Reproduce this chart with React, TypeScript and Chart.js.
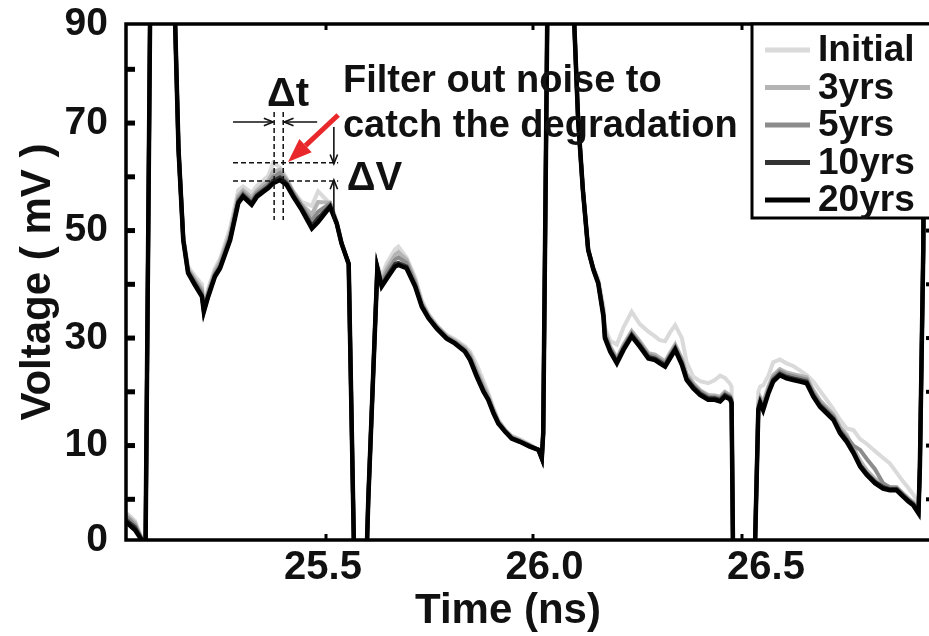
import React, { useEffect, useRef } from "react";
import { Chart, registerables } from "chart.js";

Chart.register(...registerables);

const FONT = '"Liberation Sans", Arial, Helvetica, sans-serif';

// ---------------- data ----------------
const seriesLabels = ["Initial", "3yrs", "5yrs", "10yrs", "20yrs"];
const seriesColors = ["#dadada", "#b4b4b4", "#8c8c8c", "#333333", "#000000"];

const timeNs = [
  25.0552, 25.0757, 25.0940, 25.0994, 25.1102, 25.1641, 25.1739, 25.1846, 25.1954, 25.2105,
  25.2267, 25.2310, 25.2408, 25.2559, 25.2677, 25.2904, 25.3087, 25.3195, 25.3389, 25.3508,
  25.3648, 25.3767, 25.3875, 25.4026, 25.4177, 25.4328, 25.4522, 25.4749, 25.4889, 25.5159,
  25.5310, 25.5418, 25.5580, 25.5699, 25.5990, 25.6022, 25.6227, 25.6324, 25.6443, 25.6627,
  25.6702, 25.6885, 25.7080, 25.7231, 25.7382, 25.7565, 25.7792, 25.7975, 25.8202, 25.8321,
  25.8472, 25.8623, 25.8731, 25.8849, 25.8957, 25.9108, 25.9259, 25.9443, 25.9669, 25.9864,
  25.9939, 25.9971, 26.0069, 26.0640, 26.0759, 26.0867, 26.0986, 26.1104, 26.1212, 26.1331,
  26.1363, 26.1482, 26.1633, 26.1784, 26.1968, 26.2151, 26.2345, 26.2496, 26.2604, 26.2723,
  26.2831, 26.2950, 26.3101, 26.3208, 26.3360, 26.3511, 26.3694, 26.3845, 26.3964, 26.4072,
  26.4190, 26.4223, 26.4255, 26.4751, 26.4827, 26.4870, 26.4935, 26.5054, 26.5161, 26.5312,
  26.5464, 26.5615, 26.5766, 26.5917, 26.6068, 26.6219, 26.6370, 26.6521, 26.6672, 26.6823,
  26.6974, 26.7125, 26.7276, 26.7460, 26.7643, 26.7794, 26.7945, 26.8096, 26.8215, 26.8323,
  26.8442, 26.8474, 26.8550, 26.8593,
];

const vInitial = [
  -2.4, -4.0, -8.0, -9.0, 95, 95, 65.0, 49.0, 43.3, 41.6,
  40.0, 36.0, 39.2, 43.0, 44.8, 50.5, 57.5, 58.2, 57.0, 58.3,
  59.3, 60.2, 62.6, 61.8, 59.8, 57.3, 55.3, 54.6, 57.3, 55.0,
  51.8, 48.0, 43.8, -9, -9, -0.1, 43.6, 41.5, 44.0, 46.5,
  47.0, 45.0, 41.3, 37.0, 34.5, 32.4, 30.6, 29.8, 28.5, 27.5,
  25.0, 22.0, 19.8, 17.0, 14.8, 13.0, 11.8, 11.2, 10.2, 9.2,
  7.6, 12.3, 95, 95, 70.6, 57.5, 46.4, 43.2, 41.0, 36.0,
  32.0, 29.5, 28.8, 32.0, 34.9, 32.6, 31.2, 30.3, 29.6, 29.4,
  31.0, 32.4, 30.0, 25.5, 22.8, 22.0, 21.6, 22.2, 23.0, 22.6,
  21.5, 20.9, -9, -9, 20.0, 21.0, 21.2, 23.0, 25.5, 26.0,
  25.3, 24.8, 24.0, 23.1, 21.9, 20.2, 18.5, 16.8, 14.8, 13.2,
  12.9, 11.2, 10.3, 9.0, 7.7, 6.7, 5.0, 3.3, 2.1, 0.9,
  -0.8, 6.1, 46.4, 95,
];

const v3yrs = [
  -2.8, -4.4, -8.0, -9.0, 95, 95, 65.0, 48.7, 42.9, 41.0,
  39.2, 35.6, 38.7, 42.4, 44.2, 49.6, 56.5, 57.5, 56.2, 57.5,
  58.5, 59.3, 61.0, 61.3, 59.5, 57.2, 54.8, 53.0, 55.3, 55.2,
  51.6, 47.8, 43.8, -9, -9, -0.1, 43.4, 40.8, 43.0, 45.5,
  46.0, 44.6, 40.8, 36.6, 34.3, 32.3, 30.4, 29.5, 28.2, 27.0,
  24.0, 21.2, 19.3, 16.7, 14.6, 12.9, 11.7, 11.0, 10.1, 9.2,
  7.6, 12.3, 95, 95, 70.6, 57.5, 46.4, 42.9, 40.6, 35.0,
  31.5, 28.5, 26.3, 28.8, 31.3, 29.4, 27.2, 26.9, 26.3, 25.7,
  27.2, 28.8, 26.2, 23.4, 21.6, 20.3, 19.4, 19.3, 19.1, 20.0,
  19.4, 18.7, -9, -9, 17.8, 19.0, 18.0, 21.0, 23.1, 24.2,
  23.6, 23.3, 23.0, 22.7, 20.3, 18.4, 17.1, 15.8, 13.5, 12.0,
  9.6, 7.2, 5.4, 3.8, 2.7, 2.3, 2.3, 1.1, 0.2, -0.5,
  -2.0, 6.1, 46.4, 95,
];

const v5yrs = [
  -3.2, -4.8, -8.0, -9.0, 95, 95, 65.0, 48.5, 42.6, 40.6,
  38.6, 35.3, 38.3, 42.0, 43.6, 49.0, 55.9, 57.0, 55.6, 57.0,
  57.9, 58.7, 60.0, 60.7, 59.2, 57.0, 54.5, 51.8, 53.5, 55.0,
  51.4, 47.7, 43.8, -9, -9, -0.1, 43.2, 40.3, 42.2, 44.6,
  45.0, 44.0, 40.3, 36.3, 34.0, 32.1, 30.2, 29.3, 27.9, 26.5,
  23.5, 20.6, 18.9, 16.4, 14.4, 12.8, 11.5, 10.9, 10.0, 9.2,
  7.6, 12.3, 95, 95, 70.6, 57.5, 46.4, 42.8, 40.4, 34.6,
  30.8, 28.1, 25.9, 28.4, 30.9, 29.0, 26.8, 26.5, 25.9, 25.3,
  26.8, 28.4, 25.7, 22.9, 21.2, 20.0, 19.1, 19.0, 18.8, 19.7,
  19.1, 18.4, -9, -9, 17.2, 18.5, 17.4, 20.4, 22.6, 23.8,
  23.2, 22.9, 22.6, 22.3, 19.8, 17.9, 16.7, 15.4, 13.0, 11.5,
  10.0, 9.2, 7.5, 5.6, 3.0, 2.2, 2.1, 0.9, 0.0, -0.7,
  -2.2, 6.1, 46.4, 95,
];

const v10yrs = [
  -3.8, -5.2, -8.0, -9.0, 95, 95, 65.0, 48.3, 42.3, 40.2,
  38.0, 35.0, 37.9, 41.6, 43.2, 48.5, 55.4, 56.6, 55.1, 56.6,
  57.5, 58.2, 59.3, 59.9, 58.8, 56.6, 54.1, 50.9, 52.3, 54.6,
  51.3, 47.6, 43.8, -9, -9, -0.1, 43.1, 39.8, 41.5, 43.8,
  44.0, 43.3, 39.8, 36.0, 33.8, 31.9, 30.0, 29.1, 27.6, 26.1,
  23.0, 20.2, 18.6, 16.1, 14.2, 12.7, 11.4, 10.8, 9.9, 9.2,
  7.6, 12.3, 95, 95, 70.6, 57.5, 46.4, 42.8, 40.3, 34.2,
  30.3, 27.8, 25.6, 28.1, 30.6, 28.7, 26.5, 26.2, 25.6, 25.0,
  26.5, 28.1, 25.3, 22.5, 20.9, 19.7, 18.8, 18.8, 18.5, 19.4,
  18.9, 18.1, -9, -9, 16.8, 18.1, 16.9, 20.0, 22.2, 23.4,
  22.8, 22.5, 22.2, 21.9, 19.4, 17.5, 16.3, 15.0, 12.6, 11.0,
  8.9, 6.4, 4.8, 3.3, 2.3, 1.9, 1.9, 0.7, -0.2, -0.9,
  -2.4, 6.1, 46.4, 95,
];

const v20yrs = [
  -4.2, -5.7, -8.0, -9.0, 95, 95, 65.0, 48.2, 42.1, 39.9,
  37.7, 34.9, 37.7, 41.4, 43.0, 48.2, 55.1, 56.3, 54.8, 56.3,
  57.2, 57.9, 58.8, 59.4, 58.5, 56.3, 53.8, 50.4, 51.6, 54.4,
  51.3, 47.6, 43.8, -9, -9, -0.1, 43.0, 39.6, 41.1, 43.3,
  43.6, 43.0, 39.6, 35.8, 33.7, 31.8, 29.9, 29.0, 27.5, 25.9,
  22.8, 20.0, 18.5, 16.0, 14.1, 12.6, 11.3, 10.7, 9.8, 9.2,
  7.6, 12.3, 95, 95, 70.6, 57.5, 46.4, 42.7, 40.2, 34.0,
  30.0, 27.5, 25.3, 27.8, 30.3, 28.4, 26.2, 25.9, 25.3, 24.7,
  26.2, 27.8, 25.0, 22.2, 20.6, 19.4, 18.5, 18.5, 18.2, 19.1,
  18.6, 17.9, -9, -9, 16.6, 17.9, 16.6, 19.7, 21.9, 23.1,
  22.5, 22.2, 21.9, 21.6, 19.1, 17.2, 16.0, 14.8, 12.3, 10.7,
  8.6, 6.1, 4.5, 3.0, 2.0, 1.7, 1.7, 0.5, -0.4, -1.1,
  -2.6, 6.1, 46.4, 95,
];

const seriesValues = [vInitial, v3yrs, v5yrs, v10yrs, v20yrs];

// axes
const X_MIN = 25.0553;
const X_MAX = 26.8815;
const Y_MIN = -7.57;
const Y_MAX = 88.43;
const xTickValues = [25.5, 26.0, 26.5];
const xMinorTicks = [25.5068, 25.974, 26.4458];
const yMinorTicks = [0, 10, 20, 30, 40, 50, 60, 70, 80];
const yLabelValues = [Y_MIN, 10, 30, 50, 70, Y_MAX];
const yLabelTexts = ["0", "10", "30", "50", "70", "90"];
const xTitle = "Time (ns)";
const xTitleAt = 25.9176;

// annotation anchors (data units)
const noteLines = ["Filter out noise to", "catch the degradation"];
const noteX = 25.545;
const noteY = [75.8, 67.4];
const dtLabel = { text: "\u0394t", x: 25.421, y: 73.2 };
const dvLabel = { text: "\u0394V", x: 25.5537, y: 57.5 };
const dtGuideX = [25.3897, 25.4102];
const dtGuideY = [72.06, 51.96];
const dvGuideY = [62.62, 59.22];
const dvGuideX = [25.2969, 25.5342];
const dtArrowY = 70.2;
const dtArrowFrom = [25.2969, 25.4868];
const dvArrowX = 25.5245;
const dvArrowFrom = [69.26, 51.96];
const redArrow = { x1: 25.5342, y1: 71.5, x2: 25.421, y2: 62.75 };

function line(ctx: CanvasRenderingContext2D, x1: number, y1: number, x2: number, y2: number) {
  ctx.beginPath();
  ctx.moveTo(x1, y1);
  ctx.lineTo(x2, y2);
  ctx.stroke();
}

function openArrow(ctx: CanvasRenderingContext2D, x1: number, y1: number, x2: number, y2: number) {
  line(ctx, x1, y1, x2, y2);
  const a = Math.atan2(y2 - y1, x2 - x1);
  const len = 10;
  const spread = 0.38;
  ctx.beginPath();
  ctx.moveTo(x2 - len * Math.cos(a - spread), y2 - len * Math.sin(a - spread));
  ctx.lineTo(x2, y2);
  ctx.lineTo(x2 - len * Math.cos(a + spread), y2 - len * Math.sin(a + spread));
  ctx.stroke();
}

const overlayPlugin = {
  id: "overlay",
  afterDraw(chart: any) {
    const { ctx, chartArea, scales } = chart;
    const { left, right, top, bottom } = chartArea;
    const X = (v: number) => scales.x.getPixelForValue(v);
    const Y = (v: number) => scales.y.getPixelForValue(v);
    ctx.save();

    // dashed guides
    ctx.strokeStyle = "#111";
    ctx.lineWidth = 1.5;
    ctx.setLineDash([5, 3]);
    dtGuideX.forEach((gx) => line(ctx, X(gx), Y(dtGuideY[0]), X(gx), Y(dtGuideY[1])));
    dvGuideY.forEach((gy) => line(ctx, X(dvGuideX[0]), Y(gy), X(dvGuideX[1]), Y(gy)));
    ctx.setLineDash([]);

    // delta arrows
    ctx.lineWidth = 1.6;
    openArrow(ctx, X(dtArrowFrom[0]), Y(dtArrowY), X(dtGuideX[0]) - 1, Y(dtArrowY));
    openArrow(ctx, X(dtArrowFrom[1]), Y(dtArrowY), X(dtGuideX[1]) + 1, Y(dtArrowY));
    openArrow(ctx, X(dvArrowX), Y(dvArrowFrom[0]), X(dvArrowX), Y(dvGuideY[0]) + 1);
    openArrow(ctx, X(dvArrowX), Y(dvArrowFrom[1]), X(dvArrowX), Y(dvGuideY[1]) - 1);

    // red arrow
    const rx1 = X(redArrow.x1), ry1 = Y(redArrow.y1), rx2 = X(redArrow.x2), ry2 = Y(redArrow.y2);
    const ang = Math.atan2(ry2 - ry1, rx2 - rx1);
    const headLen = 24, headHalf = 9;
    const bx = rx2 - headLen * Math.cos(ang), by = ry2 - headLen * Math.sin(ang);
    ctx.strokeStyle = "#e8282a";
    ctx.fillStyle = "#e8282a";
    ctx.lineWidth = 5;
    line(ctx, rx1, ry1, bx, by);
    ctx.beginPath();
    ctx.moveTo(rx2, ry2);
    ctx.lineTo(bx + headHalf * Math.sin(ang), by - headHalf * Math.cos(ang));
    ctx.lineTo(bx - headHalf * Math.sin(ang), by + headHalf * Math.cos(ang));
    ctx.closePath();
    ctx.fill();

    // texts
    ctx.fillStyle = "#111";
    ctx.textBaseline = "alphabetic";
    ctx.font = `bold 38px ${FONT}`;
    ctx.textAlign = "left";
    noteLines.forEach((t, i) => ctx.fillText(t, X(noteX), Y(noteY[i])));
    ctx.font = `bold 40px ${FONT}`;
    ctx.textAlign = "center";
    ctx.fillText(dtLabel.text, X(dtLabel.x), Y(dtLabel.y));
    ctx.textAlign = "left";
    ctx.fillText(dvLabel.text, X(dvLabel.x), Y(dvLabel.y));

    // x axis title
    ctx.font = `bold 42px ${FONT}`;
    ctx.textAlign = "center";
    ctx.textBaseline = "middle";
    ctx.fillText(xTitle, X(xTitleAt), bottom + 71);

    // frame and inward ticks
    ctx.strokeStyle = "#000";
    ctx.lineWidth = 3.5;
    ctx.strokeRect(left, top, right - left, bottom - top);
    ctx.lineWidth = 5;
    yMinorTicks.forEach((v) => {
      const py = Y(v);
      line(ctx, left, py, left + 9, py);
    });
    ctx.lineWidth = 4;
    yMinorTicks.forEach((v) => {
      const py = Y(v);
      line(ctx, right, py, right - 9, py);
    });
    ctx.lineWidth = 3;
    xMinorTicks.forEach((v) => {
      const px = X(v);
      line(ctx, px, bottom, px, bottom - 6);
      line(ctx, px, top, px, top + 6);
    });

    // legend
    const boxL = right - 183, boxT = top, boxB = top + 194;
    ctx.fillStyle = "#fff";
    ctx.fillRect(boxL, boxT, right - boxL, boxB - boxT);
    ctx.strokeStyle = "#000";
    ctx.lineWidth = 3;
    ctx.strokeRect(boxL, boxT, right - boxL, boxB - boxT);
    ctx.font = `bold 37px ${FONT}`;
    ctx.textBaseline = "middle";
    ctx.textAlign = "left";
    chart.data.datasets.forEach((ds: any, i: number) => {
      const cy = boxT + 26 + i * 37.5;
      ctx.strokeStyle = ds.borderColor;
      ctx.lineWidth = 5;
      line(ctx, boxL + 13, cy, boxL + 58, cy);
      ctx.fillStyle = "#111";
      ctx.fillText(ds.label, boxL + 66, cy + 1);
    });

    ctx.restore();
  },
};

export default function App() {
  const ref = useRef<HTMLCanvasElement | null>(null);

  useEffect(() => {
    document.body.style.margin = "0";
    document.body.style.overflow = "hidden";
    const canvas = ref.current;
    if (!canvas) return;
    const chart = new Chart(canvas, {
      type: "line",
      data: {
        datasets: seriesLabels.map((label, i) => ({
          label,
          data: timeNs.map((t, k) => ({ x: t, y: seriesValues[i][k] })),
          borderColor: seriesColors[i],
          backgroundColor: seriesColors[i],
          borderWidth: i === 4 ? 4.5 : 4,
          pointRadius: 0,
          tension: 0,
          fill: false,
          order: seriesLabels.length - i,
          clip: 0,
        })),
      },
      options: {
        animation: false,
        responsive: false,
        devicePixelRatio: 1,
        layout: { padding: { left: 0, right: 5, top: 24, bottom: 0 } },
        plugins: {
          legend: { display: false },
          tooltip: { enabled: false },
        },
        scales: {
          x: {
            type: "linear",
            min: X_MIN,
            max: X_MAX,
            grid: { display: false, drawTicks: false },
            border: { display: false },
            afterBuildTicks: (s: any) => {
              s.ticks = xTickValues.map((v) => ({ value: v }));
            },
            afterFit: (s: any) => {
              s.height = 96;
              s.paddingLeft = 0;
              s.paddingRight = 0;
            },
            ticks: {
              autoSkip: false,
              maxRotation: 0,
              padding: 4,
              color: "#111",
              font: { family: FONT, size: 40, weight: "bold" },
              callback: (v: any) => Number(v).toFixed(1),
            },
            title: { display: false },
          },
          y: {
            type: "linear",
            min: Y_MIN,
            max: Y_MAX,
            grid: { display: false, drawTicks: false },
            border: { display: false },
            afterBuildTicks: (s: any) => {
              s.ticks = yLabelValues.map((v) => ({ value: v }));
            },
            afterFit: (s: any) => {
              s.width = 126;
              s.paddingTop = 0;
              s.paddingBottom = 0;
            },
            ticks: {
              autoSkip: false,
              padding: 18,
              color: "#111",
              font: { family: FONT, size: 39, weight: "bold" },
              callback: (_v: any, i: number) => yLabelTexts[i],
            },
            title: {
              display: true,
              text: "Voltage ( mV )",
              color: "#111",
              font: { family: FONT, size: 42, weight: "bold" },
              padding: { top: 13, bottom: 0 },
            },
          },
        },
      },
      plugins: [overlayPlugin],
    });
    return () => chart.destroy();
  }, []);

  return (
    <div style={{ width: 929, height: 636, overflow: "hidden", background: "#fff" }}>
      <canvas ref={ref} width={940} height={636} style={{ display: "block", width: 940, height: 636 }} />
    </div>
  );
}
